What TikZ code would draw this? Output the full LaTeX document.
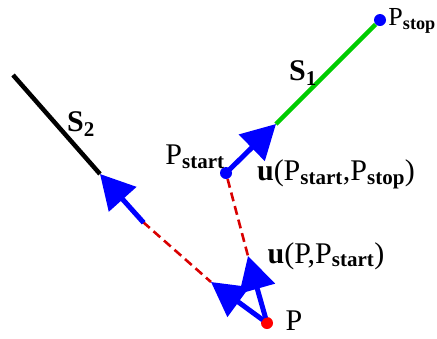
\documentclass[tikz,border=0pt]{standalone}
\usepackage{fontspec}
\setmainfont{Liberation Serif}
\usepackage{tikz}
\usetikzlibrary{arrows.meta,positioning}

\begin{document}
\begin{tikzpicture}[
  x=1pt, y=-1pt,
  dot/.style={circle, fill=blue, inner sep=0pt, minimum size=12pt},
  reddot/.style={circle, fill=red, inner sep=0pt, minimum size=12pt},
  lbl/.style={inner sep=1pt, font=\fontsize{30}{34}\selectfont},
  vec/.style={-{Triangle[length=34pt,width=36pt]}, line width=5pt, blue, shorten <=-1pt},
  seg/.style={line width=4.5pt},
  link/.style={red!85!black, line width=2.6pt, dash pattern=on 9pt off 5pt},
]
  \useasboundingbox (0,0) rectangle (437,338);

  % points
  \node[dot] (pstop) at (380,20) {};
  \node[dot] (pstart) at (226,173) {};
  \node[reddot] (p) at (267,323) {};
  \coordinate (s1end) at (276,124);
  \coordinate (s2top) at (13,75);
  \coordinate (s2end) at (100,174);
  \coordinate (foot) at (143,222);
  \coordinate (tipa) at (248,256);
  \coordinate (tipb) at (211,282);

  % segments
  \draw[seg, green!80!black] (s1end) -- (pstop);
  \draw[seg, black] (s2top) -- (s2end);

  % dashed links
  \draw[link] (pstart) -- (tipa);
  \draw[link] (foot) -- (tipb);

  % unit vectors
  \draw[vec] (pstart) -- (s1end);
  \draw[vec] (foot) -- (s2end);
  \draw[vec] (p) -- (tipa);
  \draw[vec] (p) -- (tipb);

  % labels
  \node[lbl, anchor=east, inner sep=0pt, font=\fontsize{26}{30}\selectfont] (lstop) at (436,21) {P\textsubscript{\textbf{stop}}};
  \node[lbl] (lstart) at (195,157) {P\textsubscript{\textbf{start}}};
  \node[lbl] (lp) at (294,321) {P};
  \node[lbl] (ls1) at (303,73) {\textbf{S}\textsubscript{\textbf{1}}};
  \node[lbl] (ls2) at (81,124) {\textbf{S}\textsubscript{\textbf{2}}};
  \node[lbl] (lu1) at (336,174) {\textbf{u}(P\textsubscript{\textbf{start}},P\textsubscript{\textbf{stop}})};
  \node[lbl] (lu2) at (326,256) {\textbf{u}(P,P\textsubscript{\textbf{start}})};
\end{tikzpicture}
\end{document}
